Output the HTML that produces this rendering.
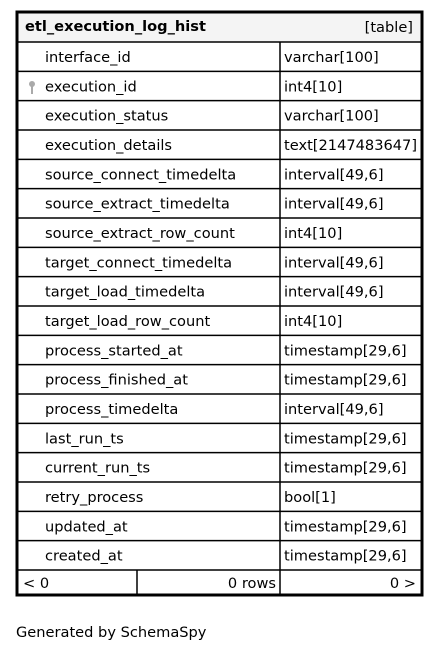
<!DOCTYPE html>
<html><head><meta charset="utf-8"><style>
html,body{margin:0;padding:0;background:#fff;width:440px;height:652px;overflow:hidden}
text{font-family:"DejaVu Sans","Liberation Sans",sans-serif;font-size:14.6px;fill:#000}
</style></head><body>
<svg width="440" height="652" xmlns="http://www.w3.org/2000/svg">
<rect x="17" y="12" width="405" height="583" fill="#fff" stroke="#000" stroke-width="3"/>
<rect x="18.5" y="13.5" width="402" height="28.5" fill="#f4f4f4"/>
<line x1="18" y1="42" x2="421" y2="42" stroke="#000" stroke-width="1.5"/>
<text x="25" y="31" font-weight="bold">etl_execution_log_hist</text>
<text x="413" y="32" text-anchor="end">[table]</text>
<g stroke="#000" stroke-width="1.5">
<line x1="280" y1="42" x2="280" y2="595"/>
<line x1="137" y1="570" x2="137" y2="595"/>
</g>
<g id="rows"></g>
<text x="23" y="588">&lt; 0</text>
<text x="276" y="588" text-anchor="end">0 rows</text>
<text x="416" y="588" text-anchor="end">0 &gt;</text>
<text x="16" y="637">Generated by SchemaSpy</text>
<g fill="#aaa"><circle cx="32" cy="84" r="3"/><rect x="31" y="86" width="2" height="8"/></g>
</svg>
<script>
var rows=[["interface_id","varchar[100]"],["execution_id","int4[10]"],["execution_status","varchar[100]"],["execution_details","text[2147483647]"],["source_connect_timedelta","interval[49,6]"],["source_extract_timedelta","interval[49,6]"],["source_extract_row_count","int4[10]"],["target_connect_timedelta","interval[49,6]"],["target_load_timedelta","interval[49,6]"],["target_load_row_count","int4[10]"],["process_started_at","timestamp[29,6]"],["process_finished_at","timestamp[29,6]"],["process_timedelta","interval[49,6]"],["last_run_ts","timestamp[29,6]"],["current_run_ts","timestamp[29,6]"],["retry_process","bool[1]"],["updated_at","timestamp[29,6]"],["created_at","timestamp[29,6]"]];
var g=document.getElementById('rows'),ns="http://www.w3.org/2000/svg",h=528/18;
rows.forEach(function(r,i){var y=42+h*(i+1);
var l=document.createElementNS(ns,'line');l.setAttribute('x1',18);l.setAttribute('x2',421);l.setAttribute('y1',y);l.setAttribute('y2',y);l.setAttribute('stroke','#000');l.setAttribute('stroke-width','1.5');g.appendChild(l);
var ty=42+h*i+20;
var t=document.createElementNS(ns,'text');t.setAttribute('x',45);t.setAttribute('y',ty);t.textContent=r[0];g.appendChild(t);
t=document.createElementNS(ns,'text');t.setAttribute('x',284);t.setAttribute('y',ty);t.textContent=r[1];g.appendChild(t);});
</script>
</body></html>
